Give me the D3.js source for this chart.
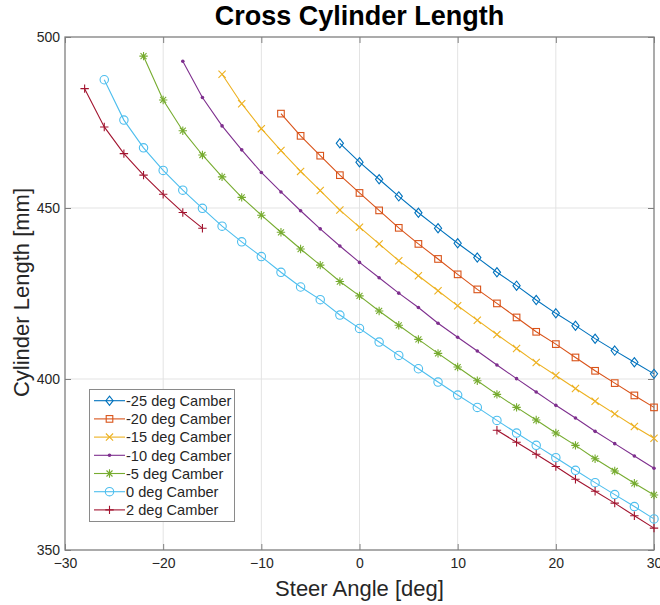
<!DOCTYPE html>
<html>
<head>
  <meta charset="utf-8">
  <title>Cross Cylinder Length</title>
  <script src="https://d3js.org/d3.v7.min.js"></script>
  <style>
    body { margin: 0; background: #fff; }
    text { font-family: "Liberation Sans", Arial, Helvetica, sans-serif; }
    .tick text { font-size: 14px; fill: #262626; }
  </style>
</head>
<body>
<div id="chart"></div>
<script>
"use strict"

// steer angle [deg] for every sample
var steer = [-28, -26, -24, -22, -20, -18, -16, -14, -12, -10, -8, -6, -4, -2, 0,
             2, 4, 6, 8, 10, 12, 14, 16, 18, 20, 22, 24, 26, 28, 30];

// cylinder length [mm], null = no point
var cam25 = [null, null, null, null, null, null, null, null, null, null, null, null, null,
             468.9, 463.4, 458.4, 453.4, 448.6, 444.1, 439.7, 435.5, 431.2, 427.3, 423.1,
             419.2, 415.6, 411.8, 408.3, 404.9, 401.5];
var cam20 = [null, null, null, null, null, null, null, null, null, null,
             477.6, 471.1, 465.3, 459.6, 454.4, 449.3, 444.2, 439.5, 435.1, 430.6, 426.2,
             422.1, 418.0, 413.8, 410.2, 406.3, 402.4, 398.8, 395.2, 391.7];
var cam15 = [null, null, null, null, null, null, null,
             489.1, 480.5, 473.2, 466.8, 460.7, 455.1, 449.4, 444.4, 439.5, 434.6, 430.2,
             425.8, 421.4, 417.2, 413.0, 408.9, 404.8, 401.0, 397.2, 393.5, 389.8, 386.1, 382.7];
var cam10 = [null, null, null, null, null,
             492.9, 482.3, 474.0, 467.0, 460.4, 454.7, 449.2, 443.9, 438.9, 434.1, 429.6,
             425.1, 420.9, 416.3, 412.2, 408.2, 404.1, 400.1, 396.2, 392.3, 388.6, 384.7,
             381.1, 377.5, 373.9];
var cam5 = [null, null, null,
            494.4, 481.6, 472.6, 465.5, 459.1, 453.1, 447.9, 442.9, 438.0, 433.3, 428.5,
            424.3, 419.9, 415.7, 411.6, 407.5, 403.5, 399.5, 395.5, 391.7, 388.0, 384.2,
            380.6, 376.7, 373.1, 369.5, 366.1];
var cam0 = [null,
            487.5, 475.7, 467.6, 461.0, 455.2, 449.9, 444.7, 440.1, 435.8, 431.2, 426.9,
            423.2, 418.7, 414.8, 410.8, 406.9, 403.0, 399.1, 395.3, 391.7, 387.9, 384.2,
            380.6, 377.0, 373.3, 369.7, 366.2, 362.7, 359.1];
var camP2 = [484.9, 473.7, 465.9, 459.6, 454.0, 448.7, 444.1,
             null, null, null, null, null, null, null, null, null, null, null, null, null, null,
             385.0, 381.5, 378.0, 374.4, 370.7, 367.2, 363.7, 360.0, 356.4];

var seriesNames = ["-25 deg Camber", "-20 deg Camber", "-15 deg Camber", "-10 deg Camber",
                   "-5 deg Camber", "0 deg Camber", "2 deg Camber"];
var seriesValues = [cam25, cam20, cam15, cam10, cam5, cam0, camP2];

var xTicks = [-30, -20, -10, 0, 10, 20, 30];
var yTicks = [350, 400, 450, 500];

// matlab default colour order and markers
var cores = ["#0072BD", "#D95319", "#EDB120", "#7E2F8E", "#77AC30", "#4DBEEE", "#A2142F"];
var marcadores = ["diamond", "square", "x", "point", "asterisk", "circle", "plus"];

var larguraSVG = 660, alturaSVG = 605;
var caixa = {left: 65, right: 654, top: 37, bottom: 550};

var svg = d3.select("#chart").append("svg")
  .attr("width", larguraSVG)
  .attr("height", alturaSVG);

var x = d3.scaleLinear().domain([-30, 30]).range([caixa.left, caixa.right]);
var y = d3.scaleLinear().domain([350, 500]).range([caixa.bottom, caixa.top]);

// grid
svg.append("g").selectAll("line").data(xTicks.slice(1, -1)).enter().append("line")
  .attr("x1", d => x(d)).attr("x2", d => x(d))
  .attr("y1", caixa.top).attr("y2", caixa.bottom)
  .attr("stroke", "#e3e3e3").attr("stroke-width", 1);
svg.append("g").selectAll("line").data(yTicks.slice(1, -1)).enter().append("line")
  .attr("y1", d => y(d)).attr("y2", d => y(d))
  .attr("x1", caixa.left).attr("x2", caixa.right)
  .attr("stroke", "#e3e3e3").attr("stroke-width", 1);

// axes, ticks pointing inwards
function estiloEixo(g) {
  g.select(".domain").remove();
  g.selectAll(".tick line").attr("stroke", "#808080");
}
svg.append("g").attr("transform", "translate(0," + caixa.bottom + ")")
  .call(d3.axisBottom(x).tickValues(xTicks).tickSize(-6).tickPadding(8))
  .call(estiloEixo);
svg.append("g").attr("transform", "translate(" + caixa.left + ",0)")
  .call(d3.axisLeft(y).tickValues(yTicks).tickSize(-6).tickPadding(5))
  .call(estiloEixo);
svg.append("g").attr("transform", "translate(0," + caixa.top + ")")
  .call(d3.axisTop(x).tickValues(xTicks).tickSize(-6).tickFormat(""))
  .call(estiloEixo);
svg.append("g").attr("transform", "translate(" + caixa.right + ",0)")
  .call(d3.axisRight(y).tickValues(yTicks).tickSize(-6).tickFormat(""))
  .call(estiloEixo);

svg.append("rect")
  .attr("x", caixa.left).attr("y", caixa.top)
  .attr("width", caixa.right - caixa.left).attr("height", caixa.bottom - caixa.top)
  .attr("fill", "none").attr("stroke", "#7f7f7f").attr("stroke-width", 1.3);

// marker drawing
function desenhaMarcador(g, tipo, cor) {
  var p;
  if (tipo == "diamond") {
    g.append("path").attr("d", "M0,-4.6L3.6,0L0,4.6L-3.6,0Z")
      .attr("fill", "none").attr("stroke", cor);
  } else if (tipo == "square") {
    g.append("rect").attr("x", -3.3).attr("y", -3.3).attr("width", 6.6).attr("height", 6.6)
      .attr("fill", "none").attr("stroke", cor);
  } else if (tipo == "x") {
    g.append("path").attr("d", "M-3.6,-3.6L3.6,3.6M-3.6,3.6L3.6,-3.6")
      .attr("stroke", cor);
  } else if (tipo == "point") {
    g.append("circle").attr("r", 1.8).attr("fill", cor);
  } else if (tipo == "asterisk") {
    g.append("path").attr("d", "M-4.2,0L4.2,0M0,-4.2L0,4.2M-3,-3L3,3M-3,3L3,-3")
      .attr("stroke", cor);
  } else if (tipo == "circle") {
    g.append("circle").attr("r", 4.2).attr("fill", "none").attr("stroke", cor);
  } else if (tipo == "plus") {
    g.append("path").attr("d", "M-4.2,0L4.2,0M0,-4.2L0,4.2")
      .attr("stroke", cor);
  }
}

var linha = d3.line()
  .defined(d => d.v !== null)
  .x(d => x(d.a))
  .y(d => y(d.v));

seriesValues.forEach(function(vals, i) {
  var pts = steer.map((a, k) => ({a: a, v: vals[k]}));
  var g = svg.append("g");
  g.append("path").datum(pts)
    .attr("d", linha)
    .attr("fill", "none")
    .attr("stroke", cores[i])
    .attr("stroke-width", 1.1);
  pts.filter(d => d.v !== null).forEach(function(d) {
    var m = g.append("g").attr("transform", "translate(" + x(d.a) + "," + y(d.v) + ")")
      .attr("stroke-width", 1.1);
    desenhaMarcador(m, marcadores[i], cores[i]);
  });
});

// legend
var leg = svg.append("g");
leg.append("rect")
  .attr("x", 89.5).attr("y", 389.5).attr("width", 145).attr("height", 132)
  .attr("fill", "#fff").attr("stroke", "#8a8a8a").attr("stroke-width", 1);
seriesNames.forEach(function(nome, i) {
  var cy = 400.7 + i * 18.2;
  leg.append("line").attr("x1", 94).attr("x2", 125).attr("y1", cy).attr("y2", cy)
    .attr("stroke", cores[i]).attr("stroke-width", 1.1);
  var m = leg.append("g").attr("transform", "translate(109.5," + cy + ")").attr("stroke-width", 1.1);
  desenhaMarcador(m, marcadores[i], cores[i]);
  leg.append("text").attr("x", 126).attr("y", cy + 5.2)
    .attr("font-size", "14.6px").attr("fill", "#262626")
    .text(nome);
});

// titles
svg.append("text")
  .attr("x", (caixa.left + caixa.right) / 2).attr("y", 24.5)
  .attr("text-anchor", "middle")
  .attr("font-size", "27px").attr("font-weight", "bold").attr("fill", "#000")
  .text("Cross Cylinder Length");

svg.append("text")
  .attr("x", (caixa.left + caixa.right) / 2).attr("y", 596)
  .attr("text-anchor", "middle")
  .attr("font-size", "22px").attr("fill", "#262626")
  .text("Steer Angle [deg]");

svg.append("text")
  .attr("transform", "translate(29," + 292.5 + ") rotate(-90)")
  .attr("text-anchor", "middle")
  .attr("font-size", "22px").attr("fill", "#262626")
  .text("Cylinder Length [mm]");
</script>
</body>
</html>
